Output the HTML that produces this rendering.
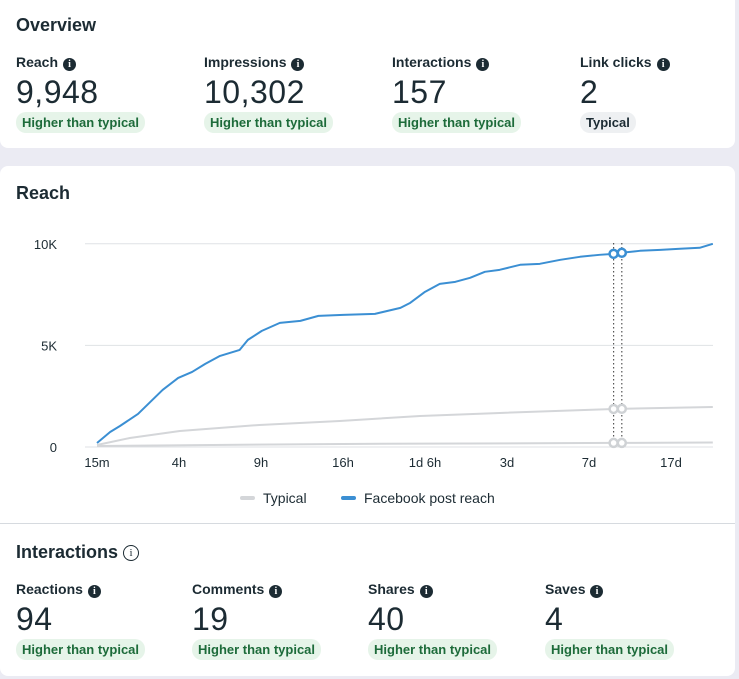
<!DOCTYPE html>
<html><head><meta charset="utf-8"><style>
body{margin:0;width:739px;height:679px;overflow:hidden;background:#ebebf3;font-family:"Liberation Sans",sans-serif;color:#1c2b33;position:relative}
.card{position:absolute;left:0;width:735px;background:#fff}
.h{position:absolute;font-weight:bold;font-size:18px}
.m{position:absolute}
.lab{font-weight:bold;font-size:14px;white-space:nowrap;line-height:16px}
.i{display:inline-block;width:13px;height:13px;border-radius:50%;background:#1c2b33;color:#fff;font-size:10px;text-align:center;line-height:13px;vertical-align:0px;margin-left:5px;font-family:"Liberation Serif",serif;font-weight:bold}
.num{font-size:32px;margin-top:1px;line-height:40px;letter-spacing:0.5px}
.b{display:inline-block;background:#e6f4e9;color:#1d6b3a;font-weight:bold;font-size:13px;padding:3px 6px;border-radius:10px;margin-top:0px}
.b.g{background:#eef0f2;color:#1c2b33}
</style></head><body>
<div class="card" style="top:0;height:148px;border-radius:0 0 8px 8px">
<div class="h" style="left:16px;top:15px">Overview</div>
<div class="m" style="left:16px;top:54px"><div class="lab">Reach<span class="i">i</span></div><div class="num">9,948</div><div class="b">Higher than typical</div></div>
<div class="m" style="left:204px;top:54px"><div class="lab">Impressions<span class="i">i</span></div><div class="num">10,302</div><div class="b">Higher than typical</div></div>
<div class="m" style="left:392px;top:54px"><div class="lab">Interactions<span class="i">i</span></div><div class="num">157</div><div class="b">Higher than typical</div></div>
<div class="m" style="left:580px;top:54px"><div class="lab">Link clicks<span class="i">i</span></div><div class="num">2</div><div class="b g">Typical</div></div>
</div>
<div class="card" style="top:166px;height:510px;border-radius:8px">
<div class="h" style="left:16px;top:17px">Reach</div>
<div style="position:absolute;left:0;top:357px;width:735px;height:1px;background:#d6dadf"></div>
<div class="h" style="left:16px;top:376px">Interactions <span style="display:inline-block;width:14px;height:14px;border:1px solid #1c2b33;border-radius:50%;font-size:11px;font-weight:normal;text-align:center;line-height:14px;vertical-align:2px;font-family:'Liberation Serif',serif">i</span></div>
<div class="m" style="left:16px;top:415px"><div class="lab">Reactions<span class="i">i</span></div><div class="num">94</div><div class="b">Higher than typical</div></div>
<div class="m" style="left:192px;top:415px"><div class="lab">Comments<span class="i">i</span></div><div class="num">19</div><div class="b">Higher than typical</div></div>
<div class="m" style="left:368px;top:415px"><div class="lab">Shares<span class="i">i</span></div><div class="num">40</div><div class="b">Higher than typical</div></div>
<div class="m" style="left:545px;top:415px"><div class="lab">Saves<span class="i">i</span></div><div class="num">4</div><div class="b">Higher than typical</div></div>
</div>
<svg id="chart" width="739" height="679" style="position:absolute;left:0;top:0"></svg>
<script>
const xTickLabels=["15m","4h","9h","16h","1d 6h","3d","7d","17d"];
const yTicks=[0,5000,10000];
const yTickLabels=["0","5K","10K"];
const reachX=[0,0.16,0.28,0.5,0.65,0.8,0.99,1.16,1.32,1.5,1.74,1.84,2.01,2.23,2.48,2.7,3.0,3.39,3.7,3.82,4.0,4.18,4.37,4.55,4.73,4.91,5.16,5.4,5.65,5.89,6.13,6.3,6.4,6.62,6.87,7.11,7.35,7.51];
const reachY=[197,739,1034,1626,2217,2808,3399,3695,4089,4483,4778,5271,5714,6108,6207,6453,6502,6552,6847,7094,7635,8030,8128,8325,8621,8719,8966,9015,9212,9360,9458,9507,9557,9655,9704,9754,9803,10000];
const typX=[0,0.4,1.01,1.98,2.96,3.94,4.91,6.3,7.51];
const typY=[98,443,788,1084,1281,1527,1675,1872,1970];
const typLowX=[0,3,6.3,7.51];
const typLowY=[50,150,200,220];
const markerX=[6.3,6.4];
const NS="http://www.w3.org/2000/svg",svg=document.getElementById('chart');
const x=v=>97+v*82, y=v=>447-v*0.02032;
function el(t,a){const e=document.createElementNS(NS,t);for(const k in a)e.setAttribute(k,a[k]);svg.appendChild(e);return e;}
yTicks.forEach((t,i)=>{
 const l=el('line',{x1:85,x2:713,y1:y(t),y2:y(t),stroke:'#dfe2e5','stroke-width':1});
 
 
 const tx=el('text',{x:57,y:y(t)+5,'text-anchor':'end','font-size':13,fill:'#1c2b33','font-family':'Liberation Sans'});
 tx.textContent=yTickLabels[i];
 
 
});
xTickLabels.forEach((t,i)=>{
 const tx=el('text',{x:x(i),y:467,'text-anchor':'middle','font-size':13,fill:'#1c2b33','font-family':'Liberation Sans'});
 tx.textContent=t;
 
 
});
function line(xs,ys,c,w,n){const p=el('polyline',{points:xs.map((v,i)=>x(v)+','+y(ys[i])).join(' '),fill:'none',stroke:c,'stroke-width':w,'stroke-linejoin':'round'});
 
 }
line(typLowX,typLowY,'#d4d6d9',2,'typical-low-line');
line(typX,typY,'#d4d6d9',2,'typical-line');
line(reachX,reachY,'#3b8fd3',2,'reach-line');
function interp(xs,ys,v){for(let i=1;i<xs.length;i++)if(v<=xs[i]){const t=(v-xs[i-1])/(xs[i]-xs[i-1]);return ys[i-1]+t*(ys[i]-ys[i-1]);}return ys[ys.length-1];}
markerX.forEach(m=>{
 const d=el('line',{x1:x(m),x2:x(m),y1:243,y2:447,stroke:'#555','stroke-width':1.2,'stroke-dasharray':'1.5 2.5'});
 
 
 [[typLowX,typLowY,'#cfd2d5'],[typX,typY,'#cfd2d5'],[reachX,reachY,'#3b8fd3']].forEach(s=>{
  const c=el('circle',{cx:x(m),cy:y(interp(s[0],s[1],m)),r:4,fill:'#fff',stroke:s[2],'stroke-width':2.5});
  
  
 });
});
const lg=[[240,'#d4d6d9','Typical'],[341,'#3b8fd3','Facebook post reach']];
lg.forEach(g=>{
 const r=el('rect',{x:g[0],y:496,width:15,height:4,rx:2,fill:g[1]});
 
 
 const t=el('text',{x:g[0]+23,y:503,'font-size':14,fill:'#1c2b33','font-family':'Liberation Sans'});
 t.textContent=g[2];
 
 
});
</script>
</body></html>
